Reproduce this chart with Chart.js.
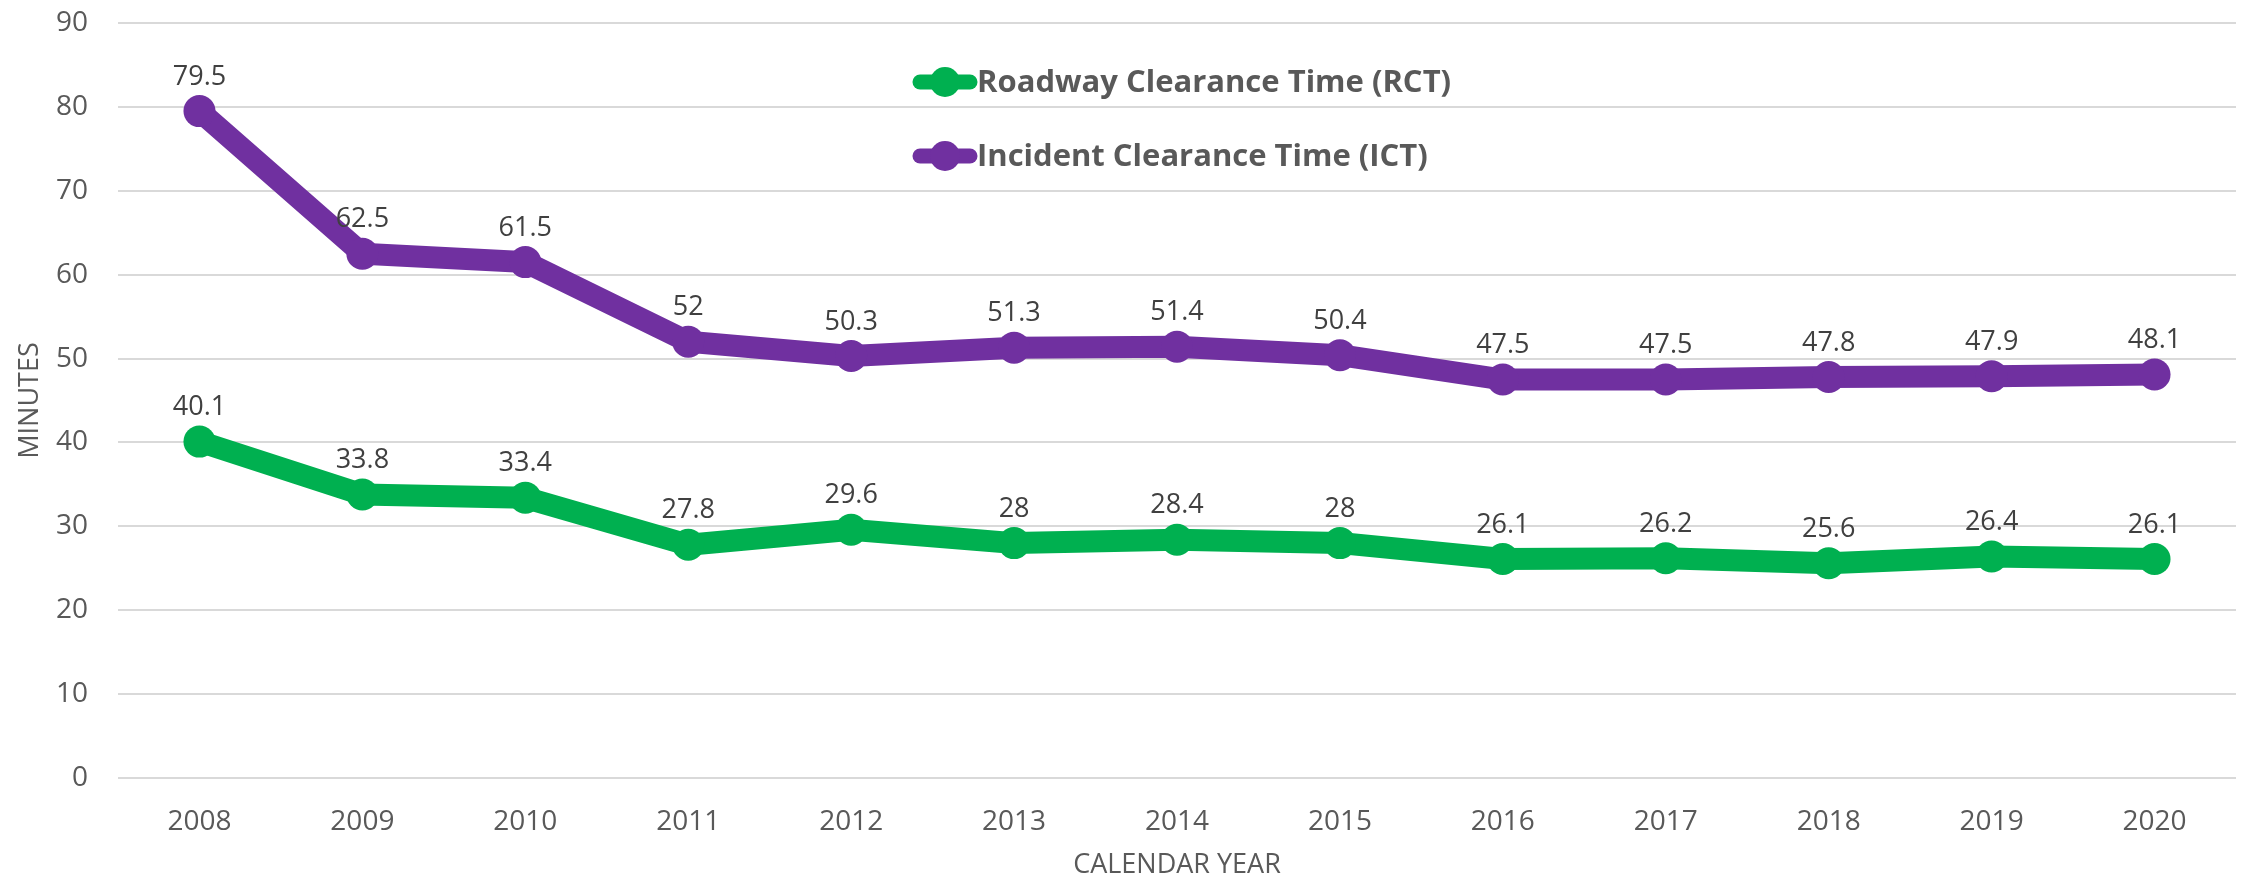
<!DOCTYPE html>
<html>
<head>
<meta charset="utf-8">
<script src="https://cdn.jsdelivr.net/npm/chart.js@4/dist/chart.umd.min.js"></script>
<style>
  html, body { margin: 0; padding: 0; background: #fff; }
  #wrap { width: 2252px; height: 880px; }
</style>
</head>
<body>
<div id="wrap"><canvas id="chart"></canvas></div>
<script>
// Chart data
const years = ['2008', '2009', '2010', '2011', '2012', '2013', '2014', '2015', '2016', '2017', '2018', '2019', '2020'];
const rct = [40.1, 33.8, 33.4, 27.8, 29.6, 28, 28.4, 28, 26.1, 26.2, 25.6, 26.4, 26.1];
const ict = [79.5, 62.5, 61.5, 52, 50.3, 51.3, 51.4, 50.4, 47.5, 47.5, 47.8, 47.9, 48.1];
const yTicks = [0, 10, 20, 30, 40, 50, 60, 70, 80, 90];

const FONT = '"Open Sans", "Liberation Sans", sans-serif';

// value labels above each point
const valueLabels = {
  id: 'valueLabels',
  afterDatasetsDraw(chart) {
    const ctx = chart.ctx;
    ctx.save();
    ctx.font = '27px ' + FONT;
    ctx.fillStyle = '#404040';
    ctx.textAlign = 'center';
    ctx.textBaseline = 'middle';
    chart.data.datasets.forEach((ds, i) => {
      chart.getDatasetMeta(i).data.forEach((pt, j) => {
        ctx.fillText(String(ds.data[j]), pt.x, pt.y - 34);
      });
    });
    ctx.restore();
  }
};

// legend drawn inside the plot, line + marker like the original
const insideLegend = {
  id: 'insideLegend',
  afterDraw(chart) {
    const ctx = chart.ctx;
    ctx.save();
    const rows = [82, 156];
    chart.data.datasets.forEach((ds, i) => {
      const y = rows[i];
      ctx.strokeStyle = ds.borderColor;
      ctx.lineWidth = 15;
      ctx.lineCap = 'round';
      ctx.beginPath();
      ctx.moveTo(920, y);
      ctx.lineTo(970, y);
      ctx.stroke();
      ctx.fillStyle = ds.borderColor;
      ctx.beginPath();
      ctx.arc(945, y, 15, 0, Math.PI * 2);
      ctx.fill();
      ctx.fillStyle = '#595959';
      ctx.font = 'bold 31px ' + FONT;
      ctx.textAlign = 'left';
      ctx.textBaseline = 'middle';
      ctx.fillText(ds.label, 977, y + 1);
    });
    ctx.restore();
  }
};

new Chart(document.getElementById('chart'), {
  type: 'line',
  data: {
    labels: years,
    datasets: [
      {
        label: 'Roadway Clearance Time (RCT)',
        data: rct,
        borderColor: '#00B050',
        backgroundColor: '#00B050',
        borderWidth: 22,
        pointRadius: 16,
        pointHoverRadius: 16,
        pointBorderWidth: 0,
      },
      {
        label: 'Incident Clearance Time (ICT)',
        data: ict,
        borderColor: '#7030A0',
        backgroundColor: '#7030A0',
        borderWidth: 22,
        pointRadius: 16,
        pointHoverRadius: 16,
        pointBorderWidth: 0,
      }
    ]
  },
  options: {
    responsive: true,
    maintainAspectRatio: false,
    animation: false,
    layout: { padding: { top: 23, right: 14, left: 0, bottom: 0 } },
    plugins: {
      legend: { display: false },
      tooltip: { enabled: false }
    },
    scales: {
      x: {
        offset: true,
        grid: { display: false, drawTicks: false },
        border: { display: false },
        ticks: { color: '#595959', font: { family: FONT, size: 28 }, padding: 27, maxRotation: 0 },
        title: { display: true, text: 'CALENDAR YEAR', color: '#595959', font: { family: FONT, size: 27, lineHeight: 1.1 }, padding: { top: 0, bottom: 0 } },
        afterFit(scale) {
          scale.height = 102;
          scale.paddingLeft = 0;
          scale.paddingRight = 0;
        }
      },
      y: {
        min: 0,
        max: 90,
        afterBuildTicks(scale) { scale.ticks = yTicks.map(v => ({ value: v })); },
        grid: { color: '#d9d9d9', lineWidth: 2, drawTicks: false },
        border: { display: false },
        ticks: { color: '#595959', font: { family: FONT, size: 28 }, padding: 30 },
        title: { display: true, text: 'MINUTES', color: '#595959', font: { family: FONT, size: 27 }, padding: { top: 14, bottom: 0 } },
        afterFit(scale) {
          scale.width = 118;
          scale.paddingTop = 0;
          scale.paddingBottom = 0;
        }
      }
    }
  },
  plugins: [valueLabels, insideLegend]
});
</script>
</body>
</html>
